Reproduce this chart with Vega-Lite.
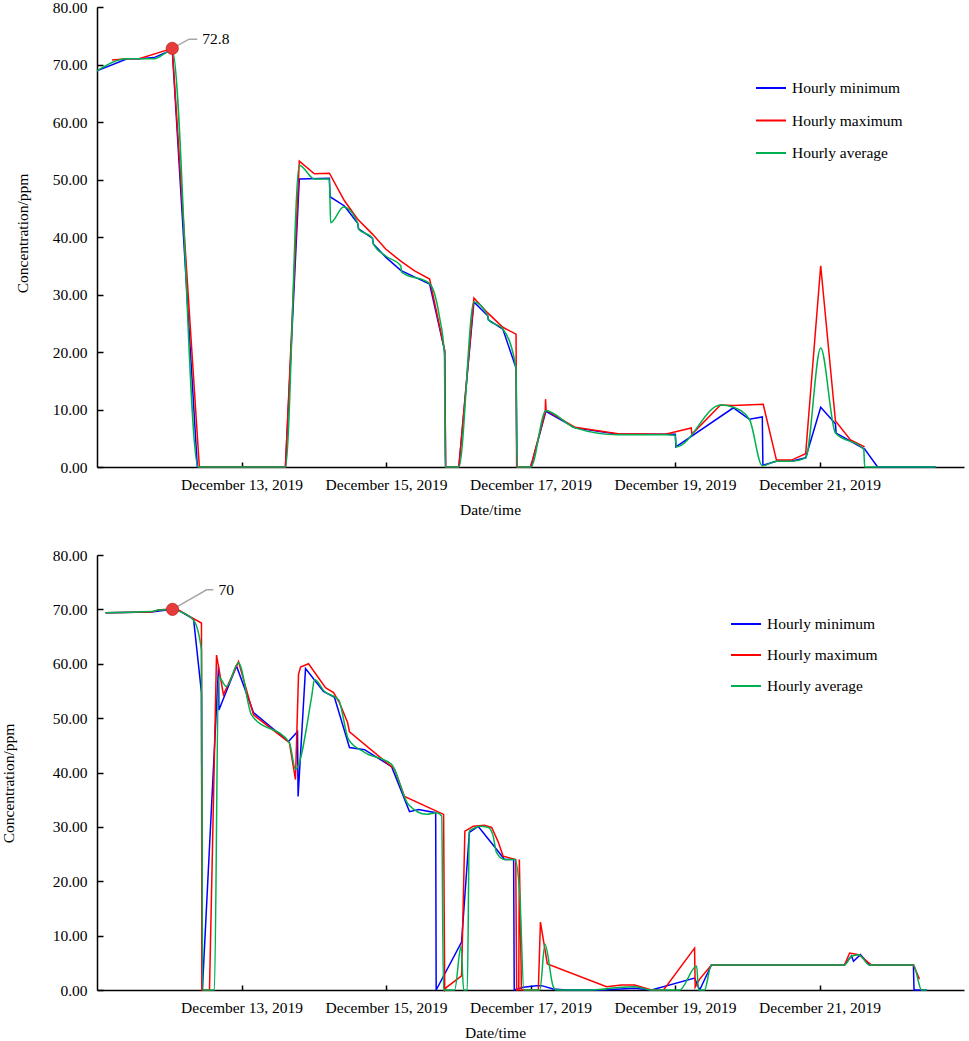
{
  "$schema": "https://vega.github.io/schema/vega-lite/v6.json",
  "background": "white",
  "padding": {"left": 1, "top": 0, "right": 2, "bottom": 0},
  "bounds": "flush",
  "spacing": 88,
  "config": {
    "font": "Liberation Serif",
    "view": {"stroke": null},
    "axis": {
      "grid": false,
      "labelFont": "Liberation Serif",
      "labelFontSize": 15.5,
      "labelColor": "black",
      "titleFont": "Liberation Serif",
      "titleFontSize": 15.5,
      "titleFontWeight": "normal",
      "titleColor": "black",
      "domainColor": "black",
      "domainWidth": 1.5,
      "tickColor": "black",
      "tickWidth": 1.5
    },
    "legend": {
      "labelFont": "Liberation Serif",
      "labelFontSize": 15.5,
      "labelColor": "black"
    }
  },
  "resolve": {
    "scale": {"color": "independent", "x": "independent", "y": "independent"},
    "legend": {"color": "independent"}
  },
  "datasets": {
    "top": [
      {"time": "2019-12-11T00:00", "series": "Hourly minimum", "value": 68.9},
      {"time": "2019-12-11T10:00", "series": "Hourly minimum", "value": 71.0},
      {"time": "2019-12-11T14:00", "series": "Hourly minimum", "value": 71.0},
      {"time": "2019-12-11T19:00", "series": "Hourly minimum", "value": 71.2},
      {"time": "2019-12-12T01:00", "series": "Hourly minimum", "value": 72.6},
      {"time": "2019-12-12T09:20", "series": "Hourly minimum", "value": 0},
      {"time": "2019-12-13T14:36", "series": "Hourly minimum", "value": 0},
      {"time": "2019-12-13T19:12", "series": "Hourly minimum", "value": 50.1},
      {"time": "2019-12-14T05:12", "series": "Hourly minimum", "value": 50.2},
      {"time": "2019-12-14T05:24", "series": "Hourly minimum", "value": 47.0},
      {"time": "2019-12-14T10:12", "series": "Hourly minimum", "value": 45.4},
      {"time": "2019-12-14T14:36", "series": "Hourly minimum", "value": 42.4},
      {"time": "2019-12-14T14:54", "series": "Hourly minimum", "value": 41.4},
      {"time": "2019-12-14T19:30", "series": "Hourly minimum", "value": 39.8},
      {"time": "2019-12-14T19:48", "series": "Hourly minimum", "value": 38.8},
      {"time": "2019-12-14T23:54", "series": "Hourly minimum", "value": 36.5},
      {"time": "2019-12-15T04:54", "series": "Hourly minimum", "value": 34.2},
      {"time": "2019-12-15T14:30", "series": "Hourly minimum", "value": 31.8},
      {"time": "2019-12-15T19:30", "series": "Hourly minimum", "value": 20.2},
      {"time": "2019-12-15T19:48", "series": "Hourly minimum", "value": 0},
      {"time": "2019-12-16T00:12", "series": "Hourly minimum", "value": 0},
      {"time": "2019-12-16T05:12", "series": "Hourly minimum", "value": 28.7},
      {"time": "2019-12-16T09:48", "series": "Hourly minimum", "value": 26.3},
      {"time": "2019-12-16T10:00", "series": "Hourly minimum", "value": 25.6},
      {"time": "2019-12-16T14:48", "series": "Hourly minimum", "value": 24.0},
      {"time": "2019-12-16T19:12", "series": "Hourly minimum", "value": 17.2},
      {"time": "2019-12-16T19:30", "series": "Hourly minimum", "value": 0},
      {"time": "2019-12-17T00:06", "series": "Hourly minimum", "value": 0},
      {"time": "2019-12-17T05:06", "series": "Hourly minimum", "value": 9.7},
      {"time": "2019-12-17T14:48", "series": "Hourly minimum", "value": 6.8},
      {"time": "2019-12-18T05:06", "series": "Hourly minimum", "value": 5.7},
      {"time": "2019-12-18T20:48", "series": "Hourly minimum", "value": 5.7},
      {"time": "2019-12-19T00:06", "series": "Hourly minimum", "value": 5.7},
      {"time": "2019-12-19T00:18", "series": "Hourly minimum", "value": 3.5},
      {"time": "2019-12-19T19:24", "series": "Hourly minimum", "value": 10.3},
      {"time": "2019-12-20T00:42", "series": "Hourly minimum", "value": 8.3},
      {"time": "2019-12-20T05:00", "series": "Hourly minimum", "value": 8.7},
      {"time": "2019-12-20T05:12", "series": "Hourly minimum", "value": 0.3},
      {"time": "2019-12-20T09:42", "series": "Hourly minimum", "value": 1.0},
      {"time": "2019-12-20T14:42", "series": "Hourly minimum", "value": 1.0},
      {"time": "2019-12-20T19:24", "series": "Hourly minimum", "value": 1.6},
      {"time": "2019-12-21T00:24", "series": "Hourly minimum", "value": 10.4},
      {"time": "2019-12-21T05:18", "series": "Hourly minimum", "value": 7.5},
      {"time": "2019-12-21T05:30", "series": "Hourly minimum", "value": 5.9},
      {"time": "2019-12-21T15:00", "series": "Hourly minimum", "value": 3.1},
      {"time": "2019-12-21T19:18", "series": "Hourly minimum", "value": 0},
      {"time": "2019-12-22T14:36", "series": "Hourly minimum", "value": 0},

      {"time": "2019-12-11T05:00", "series": "Hourly maximum", "value": 70.8},
      {"time": "2019-12-11T10:00", "series": "Hourly maximum", "value": 71.0},
      {"time": "2019-12-11T14:00", "series": "Hourly maximum", "value": 71.0},
      {"time": "2019-12-12T01:00", "series": "Hourly maximum", "value": 72.8},
      {"time": "2019-12-12T10:00", "series": "Hourly maximum", "value": 0},
      {"time": "2019-12-13T14:36", "series": "Hourly maximum", "value": 0},
      {"time": "2019-12-13T19:12", "series": "Hourly maximum", "value": 53.2},
      {"time": "2019-12-14T00:12", "series": "Hourly maximum", "value": 51.0},
      {"time": "2019-12-14T05:12", "series": "Hourly maximum", "value": 51.1},
      {"time": "2019-12-14T10:12", "series": "Hourly maximum", "value": 46.3},
      {"time": "2019-12-14T14:36", "series": "Hourly maximum", "value": 43.1},
      {"time": "2019-12-14T19:30", "series": "Hourly maximum", "value": 40.5},
      {"time": "2019-12-14T23:54", "series": "Hourly maximum", "value": 37.9},
      {"time": "2019-12-15T04:54", "series": "Hourly maximum", "value": 35.8},
      {"time": "2019-12-15T09:30", "series": "Hourly maximum", "value": 34.1},
      {"time": "2019-12-15T14:30", "series": "Hourly maximum", "value": 32.7},
      {"time": "2019-12-15T19:30", "series": "Hourly maximum", "value": 20.2},
      {"time": "2019-12-15T19:48", "series": "Hourly maximum", "value": 0},
      {"time": "2019-12-16T00:12", "series": "Hourly maximum", "value": 0},
      {"time": "2019-12-16T05:12", "series": "Hourly maximum", "value": 29.4},
      {"time": "2019-12-16T09:48", "series": "Hourly maximum", "value": 26.8},
      {"time": "2019-12-16T14:48", "series": "Hourly maximum", "value": 24.3},
      {"time": "2019-12-16T19:12", "series": "Hourly maximum", "value": 23.1},
      {"time": "2019-12-16T19:24", "series": "Hourly maximum", "value": 0},
      {"time": "2019-12-17T00:06", "series": "Hourly maximum", "value": 0},
      {"time": "2019-12-17T04:54", "series": "Hourly maximum", "value": 9.6},
      {"time": "2019-12-17T05:00", "series": "Hourly maximum", "value": 11.8},
      {"time": "2019-12-17T05:10", "series": "Hourly maximum", "value": 9.9},
      {"time": "2019-12-17T14:48", "series": "Hourly maximum", "value": 6.9},
      {"time": "2019-12-18T05:06", "series": "Hourly maximum", "value": 5.8},
      {"time": "2019-12-18T20:48", "series": "Hourly maximum", "value": 5.7},
      {"time": "2019-12-19T05:24", "series": "Hourly maximum", "value": 6.8},
      {"time": "2019-12-19T05:36", "series": "Hourly maximum", "value": 5.7},
      {"time": "2019-12-19T15:06", "series": "Hourly maximum", "value": 10.8},
      {"time": "2019-12-19T19:24", "series": "Hourly maximum", "value": 10.7},
      {"time": "2019-12-20T05:18", "series": "Hourly maximum", "value": 10.9},
      {"time": "2019-12-20T09:42", "series": "Hourly maximum", "value": 1.2},
      {"time": "2019-12-20T14:42", "series": "Hourly maximum", "value": 1.2},
      {"time": "2019-12-20T19:24", "series": "Hourly maximum", "value": 2.3},
      {"time": "2019-12-21T00:24", "series": "Hourly maximum", "value": 35.0},
      {"time": "2019-12-21T05:18", "series": "Hourly maximum", "value": 8.0},
      {"time": "2019-12-21T10:18", "series": "Hourly maximum", "value": 4.7},
      {"time": "2019-12-21T15:00", "series": "Hourly maximum", "value": 3.5},

      {"time": "2019-12-11T00:00", "series": "Hourly average", "value": 68.9},
      {"time": "2019-12-11T10:00", "series": "Hourly average", "value": 71.0},
      {"time": "2019-12-11T19:00", "series": "Hourly average", "value": 71.0},
      {"time": "2019-12-12T01:00", "series": "Hourly average", "value": 72.5},
      {"time": "2019-12-12T09:36", "series": "Hourly average", "value": 0},
      {"time": "2019-12-13T14:36", "series": "Hourly average", "value": 0},
      {"time": "2019-12-13T19:12", "series": "Hourly average", "value": 52.5},
      {"time": "2019-12-14T00:12", "series": "Hourly average", "value": 50.1},
      {"time": "2019-12-14T05:12", "series": "Hourly average", "value": 50.1},
      {"time": "2019-12-14T05:36", "series": "Hourly average", "value": 42.5},
      {"time": "2019-12-14T09:54", "series": "Hourly average", "value": 45.2},
      {"time": "2019-12-14T14:36", "series": "Hourly average", "value": 42.4},
      {"time": "2019-12-14T14:54", "series": "Hourly average", "value": 41.4},
      {"time": "2019-12-14T19:30", "series": "Hourly average", "value": 39.8},
      {"time": "2019-12-14T19:48", "series": "Hourly average", "value": 38.8},
      {"time": "2019-12-14T23:54", "series": "Hourly average", "value": 36.7},
      {"time": "2019-12-15T04:54", "series": "Hourly average", "value": 35.0},
      {"time": "2019-12-15T05:12", "series": "Hourly average", "value": 33.9},
      {"time": "2019-12-15T14:30", "series": "Hourly average", "value": 31.9},
      {"time": "2019-12-15T17:42", "series": "Hourly average", "value": 26.3},
      {"time": "2019-12-15T19:24", "series": "Hourly average", "value": 19.6},
      {"time": "2019-12-15T19:42", "series": "Hourly average", "value": 0},
      {"time": "2019-12-16T00:12", "series": "Hourly average", "value": 0},
      {"time": "2019-12-16T05:12", "series": "Hourly average", "value": 28.7},
      {"time": "2019-12-16T09:48", "series": "Hourly average", "value": 26.3},
      {"time": "2019-12-16T10:00", "series": "Hourly average", "value": 25.6},
      {"time": "2019-12-16T14:48", "series": "Hourly average", "value": 24.0},
      {"time": "2019-12-16T19:12", "series": "Hourly average", "value": 17.2},
      {"time": "2019-12-16T19:30", "series": "Hourly average", "value": 0},
      {"time": "2019-12-17T00:06", "series": "Hourly average", "value": 0},
      {"time": "2019-12-17T05:06", "series": "Hourly average", "value": 9.8},
      {"time": "2019-12-17T14:48", "series": "Hourly average", "value": 6.8},
      {"time": "2019-12-18T05:06", "series": "Hourly average", "value": 5.6},
      {"time": "2019-12-18T20:48", "series": "Hourly average", "value": 5.6},
      {"time": "2019-12-19T00:06", "series": "Hourly average", "value": 5.5},
      {"time": "2019-12-19T00:24", "series": "Hourly average", "value": 3.5},
      {"time": "2019-12-19T15:06", "series": "Hourly average", "value": 10.8},
      {"time": "2019-12-19T19:24", "series": "Hourly average", "value": 10.4},
      {"time": "2019-12-20T00:42", "series": "Hourly average", "value": 8.3},
      {"time": "2019-12-20T05:00", "series": "Hourly average", "value": 0.2},
      {"time": "2019-12-20T09:42", "series": "Hourly average", "value": 1.0},
      {"time": "2019-12-20T14:42", "series": "Hourly average", "value": 1.0},
      {"time": "2019-12-20T19:24", "series": "Hourly average", "value": 1.6},
      {"time": "2019-12-21T00:24", "series": "Hourly average", "value": 20.7},
      {"time": "2019-12-21T05:18", "series": "Hourly average", "value": 5.9},
      {"time": "2019-12-21T14:42", "series": "Hourly average", "value": 3.1},
      {"time": "2019-12-21T15:00", "series": "Hourly average", "value": 0},
      {"time": "2019-12-22T14:36", "series": "Hourly average", "value": 0}
    ],
    "bottom": [
      {"time": "2019-12-11T02:50", "series": "Hourly minimum", "value": 69.4},
      {"time": "2019-12-11T18:06", "series": "Hourly minimum", "value": 69.5},
      {"time": "2019-12-12T01:05", "series": "Hourly minimum", "value": 70.0},
      {"time": "2019-12-12T03:05", "series": "Hourly minimum", "value": 69.8},
      {"time": "2019-12-12T08:05", "series": "Hourly minimum", "value": 68.2},
      {"time": "2019-12-12T10:42", "series": "Hourly minimum", "value": 54.7},
      {"time": "2019-12-12T11:00", "series": "Hourly minimum", "value": 0},
      {"time": "2019-12-12T16:22", "series": "Hourly minimum", "value": 59.5},
      {"time": "2019-12-12T16:30", "series": "Hourly minimum", "value": 51.5},
      {"time": "2019-12-12T22:20", "series": "Hourly minimum", "value": 59.6},
      {"time": "2019-12-13T04:00", "series": "Hourly minimum", "value": 51.0},
      {"time": "2019-12-13T15:36", "series": "Hourly minimum", "value": 45.7},
      {"time": "2019-12-13T18:36", "series": "Hourly minimum", "value": 47.5},
      {"time": "2019-12-13T18:48", "series": "Hourly minimum", "value": 35.6},
      {"time": "2019-12-13T21:16", "series": "Hourly minimum", "value": 59.1},
      {"time": "2019-12-14T03:14", "series": "Hourly minimum", "value": 54.9},
      {"time": "2019-12-14T06:54", "series": "Hourly minimum", "value": 53.8},
      {"time": "2019-12-14T11:52", "series": "Hourly minimum", "value": 44.6},
      {"time": "2019-12-14T16:52", "series": "Hourly minimum", "value": 44.2},
      {"time": "2019-12-15T01:50", "series": "Hourly minimum", "value": 41.1},
      {"time": "2019-12-15T07:48", "series": "Hourly minimum", "value": 32.8},
      {"time": "2019-12-15T10:48", "series": "Hourly minimum", "value": 33.2},
      {"time": "2019-12-15T16:30", "series": "Hourly minimum", "value": 32.6},
      {"time": "2019-12-15T16:40", "series": "Hourly minimum", "value": 0},
      {"time": "2019-12-16T01:06", "series": "Hourly minimum", "value": 8.8},
      {"time": "2019-12-16T03:42", "series": "Hourly minimum", "value": 29.0},
      {"time": "2019-12-16T06:36", "series": "Hourly minimum", "value": 30.1},
      {"time": "2019-12-16T12:42", "series": "Hourly minimum", "value": 25.9},
      {"time": "2019-12-16T15:24", "series": "Hourly minimum", "value": 24.0},
      {"time": "2019-12-16T18:24", "series": "Hourly minimum", "value": 24.0},
      {"time": "2019-12-16T18:36", "series": "Hourly minimum", "value": 0},
      {"time": "2019-12-16T21:36", "series": "Hourly minimum", "value": 0.5},
      {"time": "2019-12-17T02:00", "series": "Hourly minimum", "value": 0.8},
      {"time": "2019-12-17T03:42", "series": "Hourly minimum", "value": 0.8},
      {"time": "2019-12-17T07:30", "series": "Hourly minimum", "value": 0.2},
      {"time": "2019-12-17T12:00", "series": "Hourly minimum", "value": 0},
      {"time": "2019-12-17T23:36", "series": "Hourly minimum", "value": 0},
      {"time": "2019-12-18T10:34", "series": "Hourly minimum", "value": 0.3},
      {"time": "2019-12-18T16:12", "series": "Hourly minimum", "value": 0},
      {"time": "2019-12-19T06:30", "series": "Hourly minimum", "value": 2.2},
      {"time": "2019-12-19T08:12", "series": "Hourly minimum", "value": 0},
      {"time": "2019-12-19T12:06", "series": "Hourly minimum", "value": 4.6},
      {"time": "2019-12-21T08:18", "series": "Hourly minimum", "value": 4.6},
      {"time": "2019-12-21T10:36", "series": "Hourly minimum", "value": 6.3},
      {"time": "2019-12-21T11:18", "series": "Hourly minimum", "value": 5.3},
      {"time": "2019-12-21T13:36", "series": "Hourly minimum", "value": 6.5},
      {"time": "2019-12-21T16:36", "series": "Hourly minimum", "value": 4.6},
      {"time": "2019-12-22T07:12", "series": "Hourly minimum", "value": 4.6},
      {"time": "2019-12-22T07:24", "series": "Hourly minimum", "value": 0},
      {"time": "2019-12-22T11:36", "series": "Hourly minimum", "value": 0},

      {"time": "2019-12-11T02:50", "series": "Hourly maximum", "value": 69.4},
      {"time": "2019-12-11T18:06", "series": "Hourly maximum", "value": 69.5},
      {"time": "2019-12-11T20:24", "series": "Hourly maximum", "value": 69.9},
      {"time": "2019-12-12T01:05", "series": "Hourly maximum", "value": 70.1},
      {"time": "2019-12-12T03:05", "series": "Hourly maximum", "value": 69.9},
      {"time": "2019-12-12T08:05", "series": "Hourly maximum", "value": 68.3},
      {"time": "2019-12-12T10:42", "series": "Hourly maximum", "value": 67.5},
      {"time": "2019-12-12T10:50", "series": "Hourly maximum", "value": 0},
      {"time": "2019-12-12T13:22", "series": "Hourly maximum", "value": 0},
      {"time": "2019-12-12T15:42", "series": "Hourly maximum", "value": 61.6},
      {"time": "2019-12-12T18:00", "series": "Hourly maximum", "value": 54.3},
      {"time": "2019-12-12T23:00", "series": "Hourly maximum", "value": 60.4},
      {"time": "2019-12-13T04:00", "series": "Hourly maximum", "value": 50.6},
      {"time": "2019-12-13T15:54", "series": "Hourly maximum", "value": 45.5},
      {"time": "2019-12-13T17:56", "series": "Hourly maximum", "value": 38.7},
      {"time": "2019-12-13T18:56", "series": "Hourly maximum", "value": 58.0},
      {"time": "2019-12-13T19:36", "series": "Hourly maximum", "value": 59.4},
      {"time": "2019-12-13T22:16", "series": "Hourly maximum", "value": 60.0},
      {"time": "2019-12-14T03:54", "series": "Hourly maximum", "value": 55.6},
      {"time": "2019-12-14T06:34", "series": "Hourly maximum", "value": 54.7},
      {"time": "2019-12-14T08:34", "series": "Hourly maximum", "value": 52.8},
      {"time": "2019-12-14T11:14", "series": "Hourly maximum", "value": 49.2},
      {"time": "2019-12-14T11:52", "series": "Hourly maximum", "value": 47.5},
      {"time": "2019-12-15T02:50", "series": "Hourly maximum", "value": 40.6},
      {"time": "2019-12-15T06:08", "series": "Hourly maximum", "value": 35.6},
      {"time": "2019-12-15T19:08", "series": "Hourly maximum", "value": 32.3},
      {"time": "2019-12-15T19:30", "series": "Hourly maximum", "value": 0},
      {"time": "2019-12-15T20:06", "series": "Hourly maximum", "value": 0.5},
      {"time": "2019-12-16T01:06", "series": "Hourly maximum", "value": 2.6},
      {"time": "2019-12-16T02:12", "series": "Hourly maximum", "value": 29.2},
      {"time": "2019-12-16T05:00", "series": "Hourly maximum", "value": 30.1},
      {"time": "2019-12-16T08:42", "series": "Hourly maximum", "value": 30.3},
      {"time": "2019-12-16T11:06", "series": "Hourly maximum", "value": 29.9},
      {"time": "2019-12-16T13:18", "series": "Hourly maximum", "value": 27.2},
      {"time": "2019-12-16T14:54", "series": "Hourly maximum", "value": 24.6},
      {"time": "2019-12-16T19:06", "series": "Hourly maximum", "value": 24.0},
      {"time": "2019-12-16T19:24", "series": "Hourly maximum", "value": 0},
      {"time": "2019-12-16T20:06", "series": "Hourly maximum", "value": 0},
      {"time": "2019-12-16T20:18", "series": "Hourly maximum", "value": 24.0},
      {"time": "2019-12-16T21:00", "series": "Hourly maximum", "value": 0},
      {"time": "2019-12-17T02:36", "series": "Hourly maximum", "value": 0},
      {"time": "2019-12-17T03:18", "series": "Hourly maximum", "value": 12.5},
      {"time": "2019-12-17T05:36", "series": "Hourly maximum", "value": 4.8},
      {"time": "2019-12-18T01:16", "series": "Hourly maximum", "value": 0.6},
      {"time": "2019-12-18T06:12", "series": "Hourly maximum", "value": 0.9},
      {"time": "2019-12-18T10:34", "series": "Hourly maximum", "value": 0.9},
      {"time": "2019-12-18T16:12", "series": "Hourly maximum", "value": 0},
      {"time": "2019-12-18T20:12", "series": "Hourly maximum", "value": 0},
      {"time": "2019-12-19T06:30", "series": "Hourly maximum", "value": 7.7},
      {"time": "2019-12-19T06:42", "series": "Hourly maximum", "value": 0.5},
      {"time": "2019-12-19T08:12", "series": "Hourly maximum", "value": 2.0},
      {"time": "2019-12-19T12:06", "series": "Hourly maximum", "value": 4.6},
      {"time": "2019-12-21T08:18", "series": "Hourly maximum", "value": 4.6},
      {"time": "2019-12-21T10:00", "series": "Hourly maximum", "value": 6.8},
      {"time": "2019-12-21T13:00", "series": "Hourly maximum", "value": 6.5},
      {"time": "2019-12-21T17:18", "series": "Hourly maximum", "value": 4.6},
      {"time": "2019-12-22T07:12", "series": "Hourly maximum", "value": 4.6},
      {"time": "2019-12-22T09:12", "series": "Hourly maximum", "value": 2.0},

      {"time": "2019-12-11T02:50", "series": "Hourly average", "value": 69.4},
      {"time": "2019-12-11T18:06", "series": "Hourly average", "value": 69.6},
      {"time": "2019-12-11T20:24", "series": "Hourly average", "value": 69.9},
      {"time": "2019-12-12T01:05", "series": "Hourly average", "value": 70.0},
      {"time": "2019-12-12T03:05", "series": "Hourly average", "value": 69.7},
      {"time": "2019-12-12T08:05", "series": "Hourly average", "value": 68.0},
      {"time": "2019-12-12T10:42", "series": "Hourly average", "value": 62.5},
      {"time": "2019-12-12T11:05", "series": "Hourly average", "value": 0},
      {"time": "2019-12-12T15:00", "series": "Hourly average", "value": 0},
      {"time": "2019-12-12T16:22", "series": "Hourly average", "value": 57.6},
      {"time": "2019-12-12T19:00", "series": "Hourly average", "value": 55.8},
      {"time": "2019-12-12T23:00", "series": "Hourly average", "value": 60.2},
      {"time": "2019-12-13T03:20", "series": "Hourly average", "value": 50.6},
      {"time": "2019-12-13T15:54", "series": "Hourly average", "value": 45.5},
      {"time": "2019-12-13T17:56", "series": "Hourly average", "value": 40.6},
      {"time": "2019-12-13T23:16", "series": "Hourly average", "value": 53.8},
      {"time": "2019-12-14T00:16", "series": "Hourly average", "value": 57.1},
      {"time": "2019-12-14T03:34", "series": "Hourly average", "value": 54.9},
      {"time": "2019-12-14T08:14", "series": "Hourly average", "value": 53.4},
      {"time": "2019-12-14T11:32", "series": "Hourly average", "value": 46.1},
      {"time": "2019-12-14T16:52", "series": "Hourly average", "value": 43.7},
      {"time": "2019-12-15T01:50", "series": "Hourly average", "value": 41.5},
      {"time": "2019-12-15T07:28", "series": "Hourly average", "value": 34.1},
      {"time": "2019-12-15T13:28", "series": "Hourly average", "value": 32.3},
      {"time": "2019-12-15T16:48", "series": "Hourly average", "value": 32.6},
      {"time": "2019-12-15T18:30", "series": "Hourly average", "value": 32.0},
      {"time": "2019-12-15T19:05", "series": "Hourly average", "value": 0},
      {"time": "2019-12-15T22:48", "series": "Hourly average", "value": 0},
      {"time": "2019-12-16T00:54", "series": "Hourly average", "value": 8.0},
      {"time": "2019-12-16T01:48", "series": "Hourly average", "value": 0},
      {"time": "2019-12-16T03:00", "series": "Hourly average", "value": 0},
      {"time": "2019-12-16T03:42", "series": "Hourly average", "value": 29.3},
      {"time": "2019-12-16T04:24", "series": "Hourly average", "value": 29.5},
      {"time": "2019-12-16T07:06", "series": "Hourly average", "value": 30.1},
      {"time": "2019-12-16T10:00", "series": "Hourly average", "value": 29.9},
      {"time": "2019-12-16T11:36", "series": "Hourly average", "value": 28.3},
      {"time": "2019-12-16T12:42", "series": "Hourly average", "value": 25.3},
      {"time": "2019-12-16T15:24", "series": "Hourly average", "value": 24.0},
      {"time": "2019-12-16T18:48", "series": "Hourly average", "value": 24.0},
      {"time": "2019-12-16T20:24", "series": "Hourly average", "value": 18.0},
      {"time": "2019-12-16T21:48", "series": "Hourly average", "value": 0},
      {"time": "2019-12-17T03:06", "series": "Hourly average", "value": 0},
      {"time": "2019-12-17T04:48", "series": "Hourly average", "value": 8.4},
      {"time": "2019-12-17T07:30", "series": "Hourly average", "value": 0.7},
      {"time": "2019-12-17T08:36", "series": "Hourly average", "value": 0},
      {"time": "2019-12-17T20:16", "series": "Hourly average", "value": 0},
      {"time": "2019-12-18T06:12", "series": "Hourly average", "value": 0.5},
      {"time": "2019-12-18T10:34", "series": "Hourly average", "value": 0.6},
      {"time": "2019-12-18T16:12", "series": "Hourly average", "value": 0},
      {"time": "2019-12-19T01:30", "series": "Hourly average", "value": 0},
      {"time": "2019-12-19T07:12", "series": "Hourly average", "value": 4.4},
      {"time": "2019-12-19T07:48", "series": "Hourly average", "value": 0},
      {"time": "2019-12-19T09:48", "series": "Hourly average", "value": 0},
      {"time": "2019-12-19T12:06", "series": "Hourly average", "value": 4.6},
      {"time": "2019-12-21T08:18", "series": "Hourly average", "value": 4.6},
      {"time": "2019-12-21T10:36", "series": "Hourly average", "value": 6.2},
      {"time": "2019-12-21T13:00", "series": "Hourly average", "value": 6.5},
      {"time": "2019-12-21T16:36", "series": "Hourly average", "value": 4.6},
      {"time": "2019-12-22T07:12", "series": "Hourly average", "value": 4.6},
      {"time": "2019-12-22T09:54", "series": "Hourly average", "value": 0},
      {"time": "2019-12-22T11:36", "series": "Hourly average", "value": 0}
    ],
    "topLeader": [
      {"time": "2019-12-12T01:00", "value": 72.8},
      {"time": "2019-12-12T06:36", "value": 74.4},
      {"time": "2019-12-12T09:18", "value": 74.4}
    ],
    "topPeak": [{"time": "2019-12-12T01:00", "value": 72.8}],
    "topLabel": [{"time": "2019-12-12T11:00", "value": 74.4, "label": "72.8"}],
    "bottomLeader": [
      {"time": "2019-12-12T01:05", "value": 70.0},
      {"time": "2019-12-12T12:24", "value": 73.6},
      {"time": "2019-12-12T14:42", "value": 73.6}
    ],
    "bottomPeak": [{"time": "2019-12-12T01:05", "value": 70.0}],
    "bottomLabel": [{"time": "2019-12-12T16:24", "value": 73.6, "label": "70"}]
  },
  "vconcat": [
    {
      "width": 867,
      "height": 460,
      "encoding": {
        "x": {
          "field": "time",
          "type": "temporal",
          "title": "Date/time",
          "scale": {"domain": [{"year": 2019, "month": "dec", "date": 11}, {"year": 2019, "month": "dec", "date": 23}]},
          "axis": {
            "values": [
              {"year": 2019, "month": "dec", "date": 13},
              {"year": 2019, "month": "dec", "date": 15},
              {"year": 2019, "month": "dec", "date": 17},
              {"year": 2019, "month": "dec", "date": 19},
              {"year": 2019, "month": "dec", "date": 21}
            ],
            "format": "%B %-d, %Y",
            "tickSize": -5,
            "labelPadding": 15,
            "labelOverlap": false,
            "labelFlush": false,
            "titleX": 393,
            "titleY": 42,
            "titleBaseline": "middle"
          }
        },
        "y": {
          "field": "value",
          "type": "quantitative",
          "title": "Concentration/ppm",
          "scale": {"domain": [0, 80], "nice": false},
          "axis": {
            "values": [0, 10, 20, 30, 40, 50, 60, 70, 80],
            "format": ".2f",
            "tickSize": -6,
            "labelPadding": 16,
            "titleX": -75,
            "titleY": 226,
            "titleBaseline": "middle"
          }
        }
      },
      "layer": [
        {
          "data": {"name": "top"},
          "transform": [{"filter": "datum.series !== 'Hourly average'"}],
          "mark": {"type": "line", "strokeWidth": 1.5},
          "encoding": {
            "color": {
              "field": "series",
              "type": "nominal",
              "scale": {"domain": ["Hourly minimum", "Hourly maximum", "Hourly average"], "range": ["#0000ff", "#ff0000", "#00b050"]},
              "legend": {"title": null, "orient": "none", "legendX": 658, "legendY": 65, "symbolType": "stroke", "symbolSize": 900, "symbolStrokeWidth": 2, "rowPadding": 7.5, "labelOffset": 5, "padding": 0}
            }
          }
        },
        {
          "data": {"name": "top"},
          "transform": [{"filter": "datum.series === 'Hourly average'"}],
          "mark": {"type": "line", "strokeWidth": 1.5, "interpolate": "monotone"},
          "encoding": {
            "color": {
              "field": "series",
              "type": "nominal",
              "scale": {"domain": ["Hourly minimum", "Hourly maximum", "Hourly average"], "range": ["#0000ff", "#ff0000", "#00b050"]},
              "legend": {"title": null, "orient": "none", "legendX": 658, "legendY": 65, "symbolType": "stroke", "symbolSize": 900, "symbolStrokeWidth": 2, "rowPadding": 7.5, "labelOffset": 5, "padding": 0}
            }
          }
        },
        {
          "data": {"name": "topLeader"},
          "mark": {"type": "line", "color": "#a6a6a6", "strokeWidth": 1.5},
          "encoding": {}
        },
        {
          "data": {"name": "topPeak"},
          "mark": {"type": "circle", "size": 150, "color": "#e63b3b", "opacity": 1, "stroke": "#c42b2b", "strokeWidth": 0.8}
        },
        {
          "data": {"name": "topLabel"},
          "mark": {"type": "text", "align": "left", "baseline": "middle", "fontSize": 15.5, "font": "Liberation Serif", "color": "black"},
          "encoding": {"text": {"field": "label", "type": "nominal"}}
        }
      ]
    },
    {
      "width": 867,
      "height": 435,
      "encoding": {
        "x": {
          "field": "time",
          "type": "temporal",
          "title": "Date/time",
          "scale": {"domain": [{"year": 2019, "month": "dec", "date": 11}, {"year": 2019, "month": "dec", "date": 23}]},
          "axis": {
            "values": [
              {"year": 2019, "month": "dec", "date": 13},
              {"year": 2019, "month": "dec", "date": 15},
              {"year": 2019, "month": "dec", "date": 17},
              {"year": 2019, "month": "dec", "date": 19},
              {"year": 2019, "month": "dec", "date": 21}
            ],
            "format": "%B %-d, %Y",
            "tickSize": -5,
            "labelPadding": 15,
            "labelOverlap": false,
            "labelFlush": false,
            "titleX": 398,
            "titleY": 42,
            "titleBaseline": "middle"
          }
        },
        "y": {
          "field": "value",
          "type": "quantitative",
          "title": "Concentration/ppm",
          "scale": {"domain": [0, 80], "nice": false},
          "axis": {
            "values": [0, 10, 20, 30, 40, 50, 60, 70, 80],
            "format": ".2f",
            "tickSize": -6,
            "labelPadding": 16,
            "titleX": -89,
            "titleY": 228,
            "titleBaseline": "middle"
          }
        }
      },
      "layer": [
        {
          "data": {"name": "bottom"},
          "transform": [{"filter": "datum.series !== 'Hourly average'"}],
          "mark": {"type": "line", "strokeWidth": 1.5},
          "encoding": {
            "color": {
              "field": "series",
              "type": "nominal",
              "scale": {"domain": ["Hourly minimum", "Hourly maximum", "Hourly average"], "range": ["#0000ff", "#ff0000", "#00b050"]},
              "legend": {"title": null, "orient": "none", "legendX": 633, "legendY": 53, "symbolType": "stroke", "symbolSize": 900, "symbolStrokeWidth": 2, "rowPadding": 6, "labelOffset": 5, "padding": 0}
            }
          }
        },
        {
          "data": {"name": "bottom"},
          "transform": [{"filter": "datum.series === 'Hourly average'"}],
          "mark": {"type": "line", "strokeWidth": 1.5, "interpolate": "monotone"},
          "encoding": {
            "color": {
              "field": "series",
              "type": "nominal",
              "scale": {"domain": ["Hourly minimum", "Hourly maximum", "Hourly average"], "range": ["#0000ff", "#ff0000", "#00b050"]},
              "legend": {"title": null, "orient": "none", "legendX": 633, "legendY": 53, "symbolType": "stroke", "symbolSize": 900, "symbolStrokeWidth": 2, "rowPadding": 6, "labelOffset": 5, "padding": 0}
            }
          }
        },
        {
          "data": {"name": "bottomLeader"},
          "mark": {"type": "line", "color": "#a6a6a6", "strokeWidth": 1.5},
          "encoding": {}
        },
        {
          "data": {"name": "bottomPeak"},
          "mark": {"type": "circle", "size": 150, "color": "#e63b3b", "opacity": 1, "stroke": "#c42b2b", "strokeWidth": 0.8}
        },
        {
          "data": {"name": "bottomLabel"},
          "mark": {"type": "text", "align": "left", "baseline": "middle", "fontSize": 15.5, "font": "Liberation Serif", "color": "black"},
          "encoding": {"text": {"field": "label", "type": "nominal"}}
        }
      ]
    }
  ]
}
